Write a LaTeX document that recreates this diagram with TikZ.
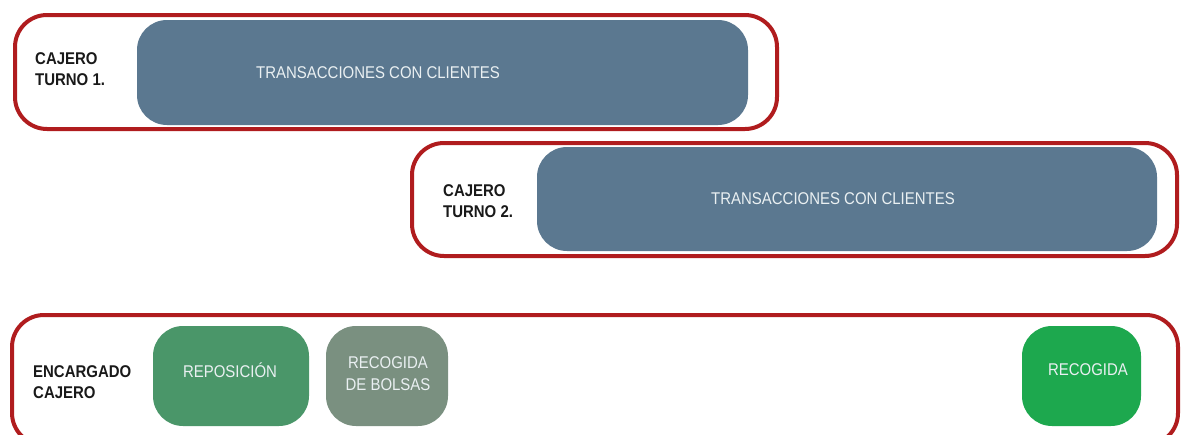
\documentclass[tikz,border=0pt]{standalone}
\usepackage{fontspec}
\setmainfont{Liberation Sans}[FakeStretch=0.88]
\usepackage{tikz}
\usetikzlibrary{positioning}
\definecolor{frameRed}{HTML}{B01C1E}
\definecolor{slateBlue}{HTML}{5B7890}
\definecolor{leafGreen}{HTML}{4A9669}
\definecolor{sageGray}{HTML}{7A9080}
\definecolor{brightGreen}{HTML}{1DA84E}
\definecolor{boxText}{HTML}{EAF0F2}
\tikzstyle{frame}=[draw=frameRed,line width=4pt,rounded corners=32pt,inner sep=0pt]
\tikzstyle{task}=[rounded corners=30pt,inner sep=0pt]
\tikzstyle{role}=[align=left,anchor=west,text=black!90,font=\fontsize{17}{21}\selectfont\bfseries,inner sep=0pt]
\tikzstyle{tasktext}=[align=center,text=boxText,font=\fontsize{17}{22}\selectfont,inner sep=0pt]

\begin{document}
\begin{tikzpicture}[x=1pt,y=-1pt]
      \useasboundingbox (0,0) rectangle (1186,434);
      % frames
      \node[frame,minimum width=762pt,minimum height=114pt] at (396,72) (turno1) {};
      \node[frame,minimum width=765pt,minimum height=113pt] at (794.5,199.5) (turno2) {};
      \node[frame,minimum width=1166pt,minimum height=130pt] at (595,380) (encargado) {};
      % rows
      \node[task,fill=slateBlue,minimum width=611pt,minimum height=105pt] at (442.5,72.5) (trans1) {};
      \node[task,fill=slateBlue,minimum width=620pt,minimum height=104pt] at (847,199) (trans2) {};
      \node[task,fill=leafGreen,minimum width=156pt,minimum height=100pt] at (231,376) (repo) {};
      \node[task,fill=sageGray,minimum width=122pt,minimum height=100pt] at (387,376) (bolsas) {};
      \node[task,fill=brightGreen,minimum width=119pt,minimum height=100pt] at (1081.5,376) (recog) {};
      % texts
      \node[role] at (35,69.5) (lab1) {CAJERO\\TURNO 1.};
      \node[role] at (443,201) (lab2) {CAJERO\\TURNO 2.};
      \node[role] at (33,382) (lab3) {ENCARGADO\\CAJERO};
      \node[tasktext] at (378,73) (t1) {TRANSACCIONES CON CLIENTES};
      \node[tasktext] at (833,199) (t2) {TRANSACCIONES CON CLIENTES};
      \node[tasktext] at (230,370) (t3) {REPOSICIÓN};
      \node[tasktext] at (388,374) (t4) {RECOGIDA\\DE BOLSAS};
      \node[tasktext] at (1088,370) (t5) {RECOGIDA};
    \end{tikzpicture}
\end{document}
